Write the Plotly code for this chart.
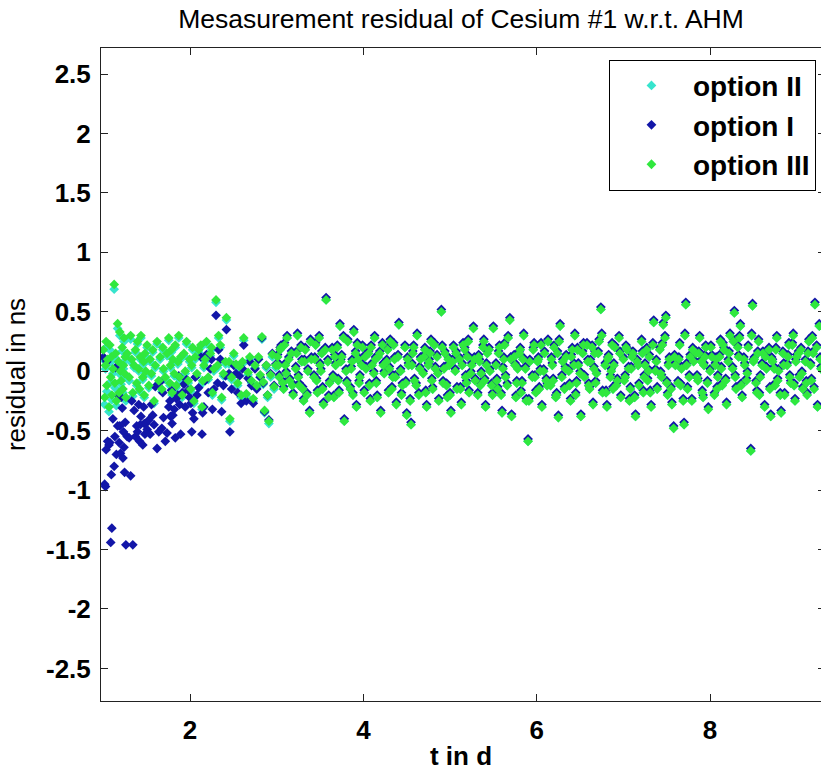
import plotly.graph_objects as go

# ---------------- data ----------------
# early part (t < 3 d): option I shows a transient, options II/III do not
t_early = [
    1.000, 1.015, 1.025, 1.032, 1.040, 1.050, 1.065, 1.075, 1.085, 1.092,
    1.098, 1.110, 1.125, 1.133, 1.142, 1.150, 1.165, 1.175, 1.182, 1.190,
    1.198, 1.205, 1.218, 1.226, 1.232, 1.238, 1.245, 1.252, 1.260, 1.275,
    1.298, 1.315, 1.328, 1.340, 1.355, 1.370, 1.385, 1.394, 1.408, 1.418,
    1.426, 1.434, 1.455, 1.465, 1.472, 1.480, 1.490, 1.505, 1.525, 1.540,
    1.555, 1.570, 1.585, 1.600, 1.620, 1.640, 1.655, 1.675, 1.686, 1.694,
    1.715, 1.735, 1.755, 1.768, 1.775, 1.785, 1.793, 1.802, 1.818, 1.830,
    1.842, 1.860, 1.870, 1.880, 1.892, 1.910, 1.930, 1.945, 1.960, 1.980,
    1.995, 2.010, 2.020, 2.030, 2.045, 2.060, 2.080, 2.100, 2.125, 2.138,
    2.146, 2.160, 2.175, 2.190, 2.210, 2.235, 2.248, 2.258, 2.275, 2.300,
    2.318, 2.330, 2.350, 2.365, 2.385, 2.410, 2.420, 2.450, 2.460, 2.480,
    2.505, 2.530, 2.550, 2.570, 2.590, 2.605, 2.620, 2.650, 2.670, 2.690,
    2.710, 2.730, 2.750, 2.770, 2.790, 2.810, 2.830, 2.845, 2.860, 2.880,
    2.895, 2.910, 2.930, 2.950, 2.970, 2.990,
]
opt1_early = [
    0.12, -0.95, -0.97, -0.66, 0.08, -0.59, -0.62, -0.60, -1.44, -0.87,
    -1.32, -0.40, -0.80, -0.55, 0.03, -0.70, -0.46, -0.21, -0.60, -0.46,
    -0.69, -0.22, -0.31, -0.73, -0.51, -0.64, -0.85, -0.43, -1.46, -0.55,
    -0.56, -0.88, -0.25, -1.46, -0.33, -0.55, -0.46, -0.51, -0.28, -0.59,
    -0.45, -0.38, -0.62, -0.30, -0.44, -0.53, -0.44, -0.49, -0.41, -0.53,
    -0.28, -0.37, -0.45, -0.13, -0.65, -0.51, -0.09, -0.48, -0.18, -0.39,
    -0.59, -0.52, -0.30, -0.25, -0.38, -0.16, -0.44, -0.37, -0.32, -0.56,
    -0.23, -0.20, -0.04, -0.28, -0.53, -0.18, -0.11, -0.30, -0.07, -0.16,
    -0.22, -0.27, -0.51, -0.35, -0.40, -0.05, -0.20, -0.14, 0.12, -0.53,
    -0.35, -0.30, -0.08, 0.14, -0.18, 0.02, 0.10, -0.32, -0.15, 0.47,
    -0.10, 0.18, 0.10, -0.34, -0.12, -0.04, 0.35, -0.02, -0.51, -0.15,
    0.05, -0.02, -0.18, -0.04, -0.27, 0.02, 0.22, -0.25, -0.06, 0.08,
    -0.12, -0.27, 0.02, -0.15, 0.10, -0.05, 0.28, -0.10, -0.34, 0.05,
    -0.20, -0.41, -0.02, 0.15, -0.12, 0.06,
]
opt3_early = [
    0.18, -0.22, 0.05, 0.25, -0.12, 0.10, -0.30, 0.22, -0.05, 0.12,
    -0.20, 0.02, 0.73, -0.10, 0.15, -0.25, 0.40, 0.08, -0.18, 0.33,
    0.00, -0.08, 0.20, -0.15, 0.05, 0.28, -0.02, 0.12, -0.22, 0.15,
    -0.05, 0.30, 0.10, -0.18, 0.05, 0.18, -0.10, 0.25, 0.02, -0.15,
    0.12, 0.30, -0.05, 0.08, -0.20, 0.15, 0.00, 0.22, -0.12, 0.10,
    -0.02, 0.18, -0.25, 0.05, 0.25, -0.08, 0.12, -0.15, 0.20, 0.02,
    -0.05, 0.15, 0.28, -0.10, 0.05, 0.18, -0.18, 0.10, -0.02, 0.22,
    -0.12, 0.08, 0.30, -0.05, 0.12, -0.20, 0.15, 0.00, 0.25, -0.08,
    0.10, -0.15, 0.05, 0.20, -0.25, 0.12, -0.02, 0.18, 0.22, -0.30,
    -0.08, 0.05, 0.10, 0.25, -0.05, 0.15, 0.20, -0.18, 0.02, 0.60,
    0.05, 0.30, 0.22, -0.22, -0.02, 0.08, 0.45, 0.08, -0.40, -0.05,
    0.15, 0.06, -0.10, 0.04, -0.20, 0.08, 0.28, -0.19, -0.01, 0.12,
    -0.08, -0.23, 0.05, -0.12, 0.12, -0.03, 0.29, -0.09, -0.33, 0.05,
    -0.20, -0.42, -0.03, 0.14, -0.13, 0.05,
]
opt2_early = [
    0.10, -0.28, 0.02, 0.20, -0.17, 0.06, -0.34, 0.18, -0.09, 0.08,
    -0.24, -0.02, 0.69, -0.14, 0.11, -0.29, 0.36, 0.05, -0.21, 0.30,
    -0.03, -0.11, 0.17, -0.18, 0.02, 0.25, -0.05, 0.09, -0.25, 0.12,
    -0.08, 0.27, 0.07, -0.21, 0.03, 0.16, -0.12, 0.23, 0.00, -0.17,
    0.10, 0.28, -0.07, 0.06, -0.22, 0.13, -0.02, 0.20, -0.14, 0.08,
    -0.04, 0.16, -0.27, 0.03, 0.23, -0.10, 0.10, -0.17, 0.18, 0.00,
    -0.07, 0.13, 0.26, -0.12, 0.03, 0.16, -0.20, 0.08, -0.04, 0.20,
    -0.14, 0.06, 0.28, -0.07, 0.10, -0.22, 0.13, -0.02, 0.23, -0.10,
    0.08, -0.17, 0.03, 0.18, -0.27, 0.10, -0.04, 0.16, 0.20, -0.32,
    -0.10, 0.03, 0.08, 0.23, -0.07, 0.13, 0.18, -0.20, 0.00, 0.58,
    0.03, 0.28, 0.20, -0.24, -0.04, 0.06, 0.43, 0.06, -0.42, -0.07,
    0.13, 0.04, -0.12, 0.02, -0.22, 0.06, 0.26, -0.21, -0.03, 0.10,
    -0.10, -0.25, 0.03, -0.14, 0.10, -0.05, 0.27, -0.11, -0.35, 0.03,
    -0.22, -0.44, -0.05, 0.12, -0.15, 0.03,
]

# later part (t >= 3 d): all three options nearly coincide
t_late = [
    3.01, 3.03, 3.05, 3.08, 3.10, 3.12, 3.15, 3.17, 3.19,
    3.22, 3.24, 3.26, 3.29, 3.31, 3.33, 3.36, 3.38, 3.40,
    3.43, 3.45, 3.47, 3.50, 3.52, 3.54, 3.57, 3.59, 3.61,
    3.64, 3.66, 3.68, 3.71, 3.73, 3.75, 3.78, 3.80, 3.82,
    3.85, 3.87, 3.89, 3.92, 3.94, 3.96, 3.99, 4.01, 4.03,
    4.06, 4.08, 4.10, 4.13, 4.15, 4.17, 4.20, 4.22, 4.24,
    4.27, 4.29, 4.31, 4.34, 4.36, 4.38, 4.41, 4.43, 4.45,
    4.48, 4.50, 4.52, 4.55, 4.57, 4.59, 4.62, 4.64, 4.66,
    4.69, 4.71, 4.73, 4.76, 4.78, 4.80, 4.83, 4.85, 4.87,
    4.90, 4.92, 4.94, 4.97, 4.99, 5.01, 5.04, 5.06, 5.08,
    5.11, 5.13, 5.15, 5.18, 5.20, 5.22, 5.25, 5.27, 5.29,
    5.32, 5.34, 5.36, 5.39, 5.41, 5.43, 5.46, 5.48, 5.50,
    5.53, 5.55, 5.57, 5.60, 5.62, 5.64, 5.67, 5.69, 5.71,
    5.74, 5.76, 5.78, 5.81, 5.83, 5.85, 5.88, 5.90, 5.92,
    5.95, 5.97, 5.99, 6.02, 6.04, 6.06, 6.09, 6.11, 6.13,
    6.16, 6.18, 6.20, 6.23, 6.25, 6.27, 6.30, 6.32, 6.34,
    6.37, 6.39, 6.41, 6.44, 6.46, 6.48, 6.51, 6.53, 6.55,
    6.58, 6.60, 6.62, 6.65, 6.67, 6.69, 6.72, 6.74, 6.76,
    6.79, 6.81, 6.83, 6.86, 6.88, 6.90, 6.93, 6.95, 6.97,
    7.00, 7.02, 7.04, 7.07, 7.09, 7.11, 7.14, 7.16, 7.18,
    7.21, 7.23, 7.25, 7.28, 7.30, 7.32, 7.35, 7.37, 7.39,
    7.42, 7.44, 7.46, 7.49, 7.51, 7.53, 7.56, 7.58, 7.60,
    7.63, 7.65, 7.67, 7.70, 7.72, 7.74, 7.77, 7.79, 7.81,
    7.84, 7.86, 7.88, 7.91, 7.93, 7.95, 7.98, 8.00, 8.02,
    8.05, 8.07, 8.09, 8.12, 8.14, 8.16, 8.19, 8.21, 8.23,
    8.26, 8.28, 8.30, 8.33, 8.35, 8.37, 8.40, 8.42, 8.44,
    8.47, 8.49, 8.51, 8.54, 8.56, 8.58, 8.61, 8.63, 8.65,
    8.68, 8.70, 8.72, 8.75, 8.77, 8.79, 8.82, 8.84, 8.86,
    8.89, 8.91, 8.93, 8.96, 8.98, 9.00, 9.03, 9.05, 9.07,
    9.10, 9.12, 9.14, 9.17, 9.19, 9.21, 9.24, 9.26, 9.28,
    # interleaved samples
    3.02, 3.04, 3.07, 3.09, 3.11, 3.14, 3.18,
    3.23, 3.25, 3.28, 3.30, 3.32, 3.35, 3.39,
    3.44, 3.46, 3.49, 3.51, 3.53, 3.56, 3.60,
    3.65, 3.67, 3.70, 3.72, 3.74, 3.77, 3.81,
    3.86, 3.88, 3.91, 3.93, 3.95, 3.98, 4.02,
    4.07, 4.09, 4.12, 4.14, 4.16, 4.19, 4.23,
    4.28, 4.30, 4.33, 4.35, 4.37, 4.40, 4.44,
    4.49, 4.51, 4.54, 4.56, 4.58, 4.61, 4.65,
    4.70, 4.72, 4.75, 4.77, 4.79, 4.82, 4.86,
    4.91, 4.93, 4.96, 4.98, 5.00, 5.03, 5.07,
    5.12, 5.14, 5.17, 5.19, 5.21, 5.24, 5.28,
    5.33, 5.35, 5.38, 5.40, 5.42, 5.45, 5.49,
    5.54, 5.56, 5.59, 5.61, 5.63, 5.66, 5.70,
    5.75, 5.77, 5.80, 5.82, 5.84, 5.87, 5.91,
    5.96, 5.98, 6.01, 6.03, 6.05, 6.08, 6.12,
    6.17, 6.19, 6.22, 6.24, 6.26, 6.29, 6.33,
    6.38, 6.40, 6.43, 6.45, 6.47, 6.50, 6.54,
    6.59, 6.61, 6.64, 6.66, 6.68, 6.71, 6.75,
    6.80, 6.82, 6.85, 6.87, 6.89, 6.92, 6.96,
    7.01, 7.03, 7.06, 7.08, 7.10, 7.13, 7.17,
    7.22, 7.24, 7.27, 7.29, 7.31, 7.34, 7.38,
    7.43, 7.45, 7.48, 7.50, 7.52, 7.55, 7.59,
    7.64, 7.66, 7.69, 7.71, 7.73, 7.76, 7.80,
    7.85, 7.87, 7.90, 7.92, 7.94, 7.97, 8.01,
    8.06, 8.08, 8.11, 8.13, 8.15, 8.18, 8.22,
    8.27, 8.29, 8.32, 8.34, 8.36, 8.39, 8.43,
    8.48, 8.50, 8.53, 8.55, 8.57, 8.60, 8.64,
    8.69, 8.71, 8.74, 8.76, 8.78, 8.81, 8.85,
    8.90, 8.92, 8.95, 8.97, 8.99, 9.02, 9.06,
    9.11, 9.13, 9.16, 9.18, 9.20, 9.23, 9.27,
]
opt3_late = [
    0.12, -0.05, 0.20, -0.15, 0.05, 0.28, -0.08, 0.15, -0.20,
    0.02, 0.30, -0.12, 0.08, -0.25, 0.18, 0.00, -0.35, 0.10,
    -0.05, 0.22, -0.18, 0.05, 0.15, -0.28, 0.60, 0.08, -0.10,
    0.18, -0.22, 0.05, -0.08, 0.38, 0.12, -0.42, 0.00, 0.25,
    -0.15, 0.08, 0.33, -0.30, 0.10, -0.05, 0.20, -0.18, 0.02,
    0.15, -0.25, 0.05, 0.28, -0.10, 0.12, -0.35, 0.22, -0.02,
    0.08, -0.18, 0.25, -0.05, 0.10, -0.28, 0.39, 0.00, -0.12,
    0.20, -0.37, 0.05, -0.45, 0.15, -0.08, 0.30, -0.20, 0.10,
    -0.02, 0.18, -0.30, 0.08, 0.25, -0.15, 0.02, 0.12, -0.25,
    0.50, -0.10, 0.15, -0.22, 0.05, -0.35, 0.20, 0.00, -0.15,
    0.10, -0.28, 0.22, -0.05, 0.12, -0.18, 0.05, 0.36, -0.08,
    -0.20, 0.08, -0.02, 0.25, -0.30, 0.15, 0.00, -0.12, 0.36,
    0.05, -0.15, 0.20, -0.35, 0.10, -0.05, 0.28, 0.43, -0.38,
    0.12, -0.22, 0.02, 0.18, -0.10, 0.30, -0.25, -0.59, 0.08,
    -0.05, 0.22, -0.18, 0.10, 0.00, -0.30, 0.15, -0.08, 0.25,
    -0.12, 0.05, 0.20, -0.20, -0.39, 0.38, 0.08, -0.15, 0.12,
    0.00, -0.25, 0.18, 0.30, -0.10, 0.05, -0.38, 0.15, -0.05,
    0.22, -0.12, 0.08, -0.28, 0.15, -0.02, 0.25, 0.52, -0.18,
    0.05, -0.30, 0.12, 0.00, -0.15, 0.20, -0.08, 0.28, -0.22,
    0.10, -0.05, 0.18, -0.25, 0.02, 0.15, -0.38, 0.08, -0.12,
    0.25, -0.18, 0.05, -0.08, 0.12, -0.30, 0.41, 0.00, -0.15,
    0.18, -0.05, 0.39, 0.45, -0.20, 0.10, -0.28, -0.48, 0.05,
    -0.10, 0.22, 0.02, -0.45, 0.56, -0.15, 0.12, -0.25, 0.08,
    0.15, -0.08, 0.28, -0.18, 0.05, 0.20, -0.32, 0.00, 0.12,
    -0.20, 0.10, -0.05, 0.25, -0.12, 0.18, -0.28, 0.08, 0.30,
    0.02, 0.49, -0.15, 0.12, 0.38, -0.22, 0.05, -0.08, 0.20,
    -0.67, 0.55, 0.10, -0.18, 0.25, -0.05, 0.15, -0.30, 0.02,
    0.18, -0.38, 0.08, -0.12, 0.28, 0.00, -0.35, 0.15, -0.20,
    0.05, 0.22, -0.10, 0.30, -0.25, 0.12, -0.05, 0.18, -0.15,
    0.08, -0.20, 0.25, -0.08, 0.15, 0.56, -0.30, 0.38, 0.02,
    # interleaved samples
    0.05, 0.18, -0.10, 0.22, -0.02, 0.10, -0.12,
    0.15, -0.05, 0.20, -0.15, 0.08, -0.20, 0.25,
    0.10, -0.08, 0.28, 0.00, -0.15, 0.18, -0.22,
    -0.05, 0.12, 0.20, -0.18, 0.08, 0.28, -0.10,
    0.02, -0.20, 0.15, 0.22, -0.10, 0.05, 0.12,
    -0.12, 0.20, -0.02, 0.10, -0.22, 0.15, 0.05,
    0.18, 0.02, -0.15, 0.22, -0.05, 0.12, -0.20,
    -0.10, 0.10, -0.25, 0.05, 0.20, -0.12, 0.02,
    0.12, -0.18, 0.05, 0.15, -0.08, 0.22, -0.02,
    0.20, 0.02, -0.12, 0.10, -0.20, 0.08, 0.15,
    -0.15, 0.05, 0.18, -0.10, 0.25, -0.02, 0.10,
    0.12, -0.12, 0.20, -0.08, 0.05, 0.18, -0.20,
    -0.08, 0.15, -0.20, 0.02, 0.22, -0.12, 0.10,
    0.05, -0.10, 0.15, -0.18, 0.10, 0.02, -0.25,
    0.18, -0.05, 0.08, -0.15, 0.22, 0.00, -0.12,
    0.10, -0.08, -0.22, 0.15, 0.25, -0.05, 0.02,
    -0.12, 0.12, 0.05, -0.20, 0.18, -0.02, 0.22,
    0.08, -0.15, 0.20, 0.02, -0.10, 0.15, 0.30,
    -0.18, 0.10, -0.05, 0.22, 0.05, -0.12, 0.15,
    -0.08, 0.20, 0.02, -0.15, 0.12, -0.22, 0.05,
    0.15, -0.05, 0.18, 0.00, -0.18, 0.22, 0.08,
    -0.02, 0.22, 0.28, -0.10, 0.05, -0.15, 0.12,
    0.10, -0.12, -0.25, 0.30, 0.05, -0.05, 0.18,
    -0.05, 0.15, 0.08, -0.22, 0.12, -0.10, 0.20,
    0.05, -0.15, 0.12, 0.02, 0.22, -0.08, 0.15,
    0.25, -0.05, 0.20, 0.28, -0.12, 0.10, -0.02,
    0.30, 0.08, -0.10, 0.15, -0.20, 0.05, 0.12,
    -0.15, 0.10, 0.02, 0.18, -0.08, -0.20, 0.05,
    0.12, -0.05, 0.22, -0.12, 0.08, 0.15, -0.02,
    -0.10, 0.15, 0.05, 0.28, -0.15, 0.20, 0.10,
]
opt1_late = [
    0.14, -0.03, 0.22, -0.13, 0.07, 0.30, -0.06, 0.17, -0.18,
    0.04, 0.32, -0.10, 0.10, -0.23, 0.20, 0.02, -0.33, 0.12,
    -0.03, 0.24, -0.16, 0.07, 0.17, -0.26, 0.62, 0.10, -0.08,
    0.20, -0.20, 0.07, -0.06, 0.40, 0.14, -0.40, 0.02, 0.27,
    -0.13, 0.10, 0.35, -0.28, 0.12, -0.03, 0.22, -0.16, 0.04,
    0.17, -0.23, 0.07, 0.30, -0.08, 0.14, -0.33, 0.24, 0.00,
    0.10, -0.16, 0.27, -0.03, 0.12, -0.26, 0.41, 0.02, -0.10,
    0.22, -0.35, 0.07, -0.43, 0.17, -0.06, 0.32, -0.18, 0.12,
    0.00, 0.20, -0.28, 0.10, 0.27, -0.13, 0.04, 0.14, -0.23,
    0.52, -0.08, 0.17, -0.20, 0.07, -0.33, 0.22, 0.02, -0.13,
    0.12, -0.26, 0.24, -0.03, 0.14, -0.16, 0.07, 0.38, -0.06,
    -0.18, 0.10, 0.00, 0.27, -0.28, 0.17, 0.02, -0.10, 0.38,
    0.07, -0.13, 0.22, -0.33, 0.12, -0.03, 0.30, 0.45, -0.36,
    0.14, -0.20, 0.04, 0.20, -0.08, 0.32, -0.23, -0.57, 0.10,
    -0.03, 0.24, -0.16, 0.12, 0.02, -0.28, 0.17, -0.06, 0.27,
    -0.10, 0.07, 0.22, -0.18, -0.37, 0.40, 0.10, -0.13, 0.14,
    0.02, -0.23, 0.20, 0.32, -0.08, 0.07, -0.36, 0.17, -0.03,
    0.24, -0.10, 0.10, -0.26, 0.17, 0.00, 0.27, 0.54, -0.16,
    0.07, -0.28, 0.14, 0.02, -0.13, 0.22, -0.06, 0.30, -0.20,
    0.12, -0.03, 0.20, -0.23, 0.04, 0.17, -0.36, 0.10, -0.10,
    0.27, -0.16, 0.07, -0.06, 0.14, -0.28, 0.43, 0.02, -0.13,
    0.20, -0.03, 0.41, 0.47, -0.18, 0.12, -0.26, -0.46, 0.07,
    -0.08, 0.24, 0.04, -0.43, 0.58, -0.13, 0.14, -0.23, 0.10,
    0.17, -0.06, 0.30, -0.16, 0.07, 0.22, -0.30, 0.02, 0.14,
    -0.18, 0.12, -0.03, 0.27, -0.10, 0.20, -0.26, 0.10, 0.32,
    0.04, 0.51, -0.13, 0.14, 0.40, -0.20, 0.07, -0.06, 0.22,
    -0.65, 0.57, 0.12, -0.16, 0.27, -0.03, 0.17, -0.28, 0.04,
    0.20, -0.36, 0.10, -0.10, 0.30, 0.02, -0.33, 0.17, -0.18,
    0.07, 0.24, -0.08, 0.32, -0.23, 0.14, -0.03, 0.20, -0.13,
    0.10, -0.18, 0.27, -0.06, 0.17, 0.58, -0.28, 0.40, 0.04,
    # interleaved samples
    0.07, 0.20, -0.08, 0.24, 0.00, 0.12, -0.10,
    0.17, -0.03, 0.22, -0.13, 0.10, -0.18, 0.27,
    0.12, -0.06, 0.30, 0.02, -0.13, 0.20, -0.20,
    -0.03, 0.14, 0.22, -0.16, 0.10, 0.30, -0.08,
    0.04, -0.18, 0.17, 0.24, -0.08, 0.07, 0.14,
    -0.10, 0.22, 0.00, 0.12, -0.20, 0.17, 0.07,
    0.20, 0.04, -0.13, 0.24, -0.03, 0.14, -0.18,
    -0.08, 0.12, -0.23, 0.07, 0.22, -0.10, 0.04,
    0.14, -0.16, 0.07, 0.17, -0.06, 0.24, 0.00,
    0.22, 0.04, -0.10, 0.12, -0.18, 0.10, 0.17,
    -0.13, 0.07, 0.20, -0.08, 0.27, 0.00, 0.12,
    0.14, -0.10, 0.22, -0.06, 0.07, 0.20, -0.18,
    -0.06, 0.17, -0.18, 0.04, 0.24, -0.10, 0.12,
    0.07, -0.08, 0.17, -0.16, 0.12, 0.04, -0.23,
    0.20, -0.03, 0.10, -0.13, 0.24, 0.02, -0.10,
    0.12, -0.06, -0.20, 0.17, 0.27, -0.03, 0.04,
    -0.10, 0.14, 0.07, -0.18, 0.20, 0.00, 0.24,
    0.10, -0.13, 0.22, 0.04, -0.08, 0.17, 0.32,
    -0.16, 0.12, -0.03, 0.24, 0.07, -0.10, 0.17,
    -0.06, 0.22, 0.04, -0.13, 0.14, -0.20, 0.07,
    0.17, -0.03, 0.20, 0.02, -0.16, 0.24, 0.10,
    0.00, 0.24, 0.30, -0.08, 0.07, -0.13, 0.14,
    0.12, -0.10, -0.23, 0.32, 0.07, -0.03, 0.20,
    -0.03, 0.17, 0.10, -0.20, 0.14, -0.08, 0.22,
    0.07, -0.13, 0.14, 0.04, 0.24, -0.06, 0.17,
    0.27, -0.03, 0.22, 0.30, -0.10, 0.12, 0.00,
    0.32, 0.10, -0.08, 0.17, -0.18, 0.07, 0.14,
    -0.13, 0.12, 0.04, 0.20, -0.06, -0.18, 0.07,
    0.14, -0.03, 0.24, -0.10, 0.10, 0.17, 0.00,
    -0.08, 0.17, 0.07, 0.30, -0.13, 0.22, 0.12,
]
# option II lies exactly under option III after day 3 (not visible separately)
opt2_late = list(opt3_late)

t_days = t_early + t_late
option_I = opt1_early + opt1_late
option_II = opt2_early + opt2_late
option_III = opt3_early + opt3_late

series_names = ["option II", "option I", "option III"]
series_values = [option_II, option_I, option_III]
series_colors = ["rgb(55,228,205)", "rgb(18,22,168)", "rgb(48,232,62)"]

y_tick_vals = [-2.5, -2, -1.5, -1, -0.5, 0, 0.5, 1, 1.5, 2, 2.5]
y_tick_text = ["-2.5", "-2", "-1.5", "-1", "-0.5", "0", "0.5", "1", "1.5", "2", "2.5"]
x_tick_vals = [2, 4, 6, 8]
x_tick_text = ["2", "4", "6", "8"]

# ---------------- figure ----------------
FONT = "Liberation Sans, Arial, Helvetica, sans-serif"
fig = go.Figure()
for name, vals, col in zip(series_names, series_values, series_colors):
    fig.add_trace(go.Scatter(
        x=t_days, y=vals, mode="markers", name=name, legendgroup=name,
        marker=dict(symbol="diamond", size=7.5, color=col, line=dict(width=0)),
    ))
# helper trace so the right-hand tick axis is drawn
fig.add_trace(go.Scatter(x=[], y=[], yaxis="y2", showlegend=False, hoverinfo="skip"))

fig.update_layout(
    width=821, height=771,
    margin=dict(l=101, r=0, t=48, b=70),
    paper_bgcolor="white", plot_bgcolor="white",
    font=dict(family=FONT, color="black"),
    title=dict(text="Mesasurement residual of Cesium #1 w.r.t. AHM",
               x=0.5, xref="paper", xanchor="center",
               y=1 - 19 / 771, yref="container", yanchor="middle",
               font=dict(size=26.5, family=FONT, color="black")),
    showlegend=True,
    legend=dict(x=0.993, xanchor="right", y=0.982, yanchor="top",
                bgcolor="white", bordercolor="black", borderwidth=1,
                font=dict(size=28, family=FONT, color="black", weight="bold"),
                tracegroupgap=0, itemwidth=73),
    xaxis=dict(range=[0.973, 9.28], tickmode="array", tickvals=x_tick_vals, ticktext=x_tick_text,
               ticks="inside", ticklen=7, tickcolor="#222", tickwidth=1,
               showline=True, linecolor="#222", linewidth=1, mirror="ticks",
               showgrid=False, zeroline=False,
               tickfont=dict(size=26, family=FONT, weight="bold"), ticklabelstandoff=6,
               title=dict(text="t in d", standoff=8,
                          font=dict(size=26, family=FONT, weight="bold"))),
    yaxis=dict(range=[-2.774, 2.719], tickmode="array", tickvals=y_tick_vals, ticktext=y_tick_text,
               ticks="inside", ticklen=7, tickcolor="#222", tickwidth=1,
               showline=True, linecolor="#222", linewidth=1, mirror=False,
               showgrid=False, zeroline=False,
               tickfont=dict(size=26, family=FONT, weight="bold"), ticklabelstandoff=4,
               title=dict(text="residual in ns", standoff=12,
                          font=dict(size=26, family=FONT))),
    yaxis2=dict(range=[-2.774, 2.719], overlaying="y", side="right", anchor="x",
                tickmode="array", tickvals=y_tick_vals, ticks="inside", ticklen=3,
                tickcolor="#222", showticklabels=False, showline=False,
                showgrid=False, zeroline=False),
)

fig.write_html("out.html")
